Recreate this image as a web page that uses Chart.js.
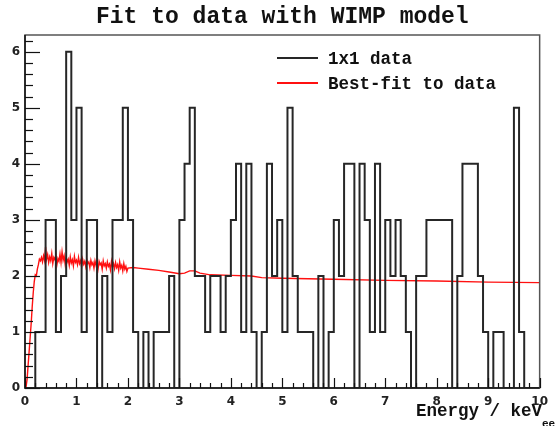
<!DOCTYPE html>
<html>
<head>
<meta charset="utf-8">
<script src="https://cdn.jsdelivr.net/npm/chart.js@4.4.1/dist/chart.umd.min.js"></script>
<style>
  html, body { margin: 0; padding: 0; background: #fff; }
  canvas { display: block; }
</style>
</head>
<body>
<canvas id="chart" width="555" height="426"></canvas>
<script>
// histogram: 100 bins of 0.1 keV from 0 to 10
const titleText = 'Fit to data with WIMP model';
const xTitle = 'Energy / keV';
const xTitleSub = 'ee';
const binStart = 0;
const binWidth = 0.1;
const counts = [
    0, 0, 1, 1, 3, 3, 1, 2, 6, 3,
    5, 1, 3, 3, 0, 2, 1, 3, 3, 5,
    3, 1, 0, 1, 0, 1, 1, 1, 2, 0,
    3, 4, 5, 2, 2, 1, 2, 2, 1, 2,
    3, 4, 1, 4, 1, 0, 1, 4, 2, 3,
    1, 5, 2, 1, 1, 1, 0, 2, 0, 1,
    3, 2, 4, 4, 0, 4, 3, 1, 4, 1,
    3, 2, 3, 2, 1, 0, 2, 2, 3, 3,
    3, 3, 3, 0, 2, 4, 4, 4, 2, 1,
    0, 1, 1, 0, 0, 5, 1, 0, 0, 0
];

// best-fit curve (noisy part below 2 keV)
const fitX = [
    0.00, 0.02, 0.04, 0.06, 0.08, 0.10, 0.12, 0.14, 0.16, 0.18, 0.20, 0.22, 0.24, 0.26, 0.28,
    0.30, 0.32, 0.34, 0.36, 0.38, 0.40, 0.42, 0.44, 0.46, 0.48, 0.50, 0.52, 0.54, 0.56, 0.58,
    0.60, 0.62, 0.64, 0.66, 0.68, 0.70, 0.72, 0.74, 0.76, 0.78, 0.80, 0.82, 0.84, 0.86, 0.88,
    0.90, 0.92, 0.94, 0.96, 0.98, 1.00, 1.02, 1.04, 1.06, 1.08, 1.10, 1.12, 1.14, 1.16, 1.18,
    1.20, 1.22, 1.24, 1.26, 1.28, 1.30, 1.32, 1.34, 1.36, 1.38, 1.40, 1.42, 1.44, 1.46, 1.48,
    1.50, 1.52, 1.54, 1.56, 1.58, 1.60, 1.62, 1.64, 1.66, 1.68, 1.70, 1.72, 1.74, 1.76, 1.78,
    1.80, 1.82, 1.84, 1.86, 1.88, 1.90, 1.92, 1.94, 1.96, 1.98, 2.00,
    2.1, 2.2, 2.4, 2.6, 2.8, 3.0, 3.1, 3.2, 3.3, 3.4, 3.6, 4.0, 4.4, 4.6, 5.0,
    6.0, 7.0, 8.0, 9.0, 10.0
];
const fitY = [
    0.00, 0.02, 0.15, 0.40, 0.65, 0.90, 1.15, 1.45, 1.70, 1.90, 2.02, 2.00, 2.12, 2.20, 2.30,
    2.27, 2.33, 2.25, 2.36, 2.28, 2.52, 2.30, 2.38, 2.24, 2.34, 2.27, 2.40, 2.22, 2.33, 2.29,
    2.37, 2.20, 2.31, 2.26, 2.39, 2.24, 2.43, 2.28, 2.36, 2.21, 2.33, 2.25, 2.30, 2.19, 2.34,
    2.23, 2.29, 2.18, 2.35, 2.24, 2.28, 2.20, 2.33, 2.22, 2.27, 2.16, 2.30, 2.21, 2.26, 2.17,
    2.29, 2.22, 2.25, 2.15, 2.28, 2.20, 2.24, 2.14, 2.27, 2.19, 2.25, 2.13, 2.26, 2.20, 2.23,
    2.12, 2.27, 2.18, 2.22, 2.14, 2.25, 2.17, 2.21, 2.11, 2.26, 2.16, 2.22, 2.13, 2.24, 2.15,
    2.20, 2.10, 2.25, 2.14, 2.19, 2.09, 2.22, 2.12, 2.17, 2.08, 2.14,
    2.15, 2.14, 2.12, 2.10, 2.07, 2.04, 2.05, 2.09, 2.09, 2.05, 2.02, 2.01, 2.00, 1.97, 1.96,
    1.94, 1.92, 1.91, 1.89, 1.88
];

const histPts = counts.map((c, i) => ({ x: binStart + i * binWidth, y: c }));
histPts.push({ x: binStart + counts.length * binWidth, y: counts[counts.length - 1] });
const fitPts = fitX.map((x, i) => ({ x: x, y: fitY[i] }));

// ROOT style frame, inward ticks, title, legend and axis title
const rootStyle = {
    id: 'rootStyle',
    afterDraw(chart) {
        const { ctx, chartArea: a, scales } = chart;
        const xs = scales.x, ys = scales.y;
        ctx.save();

        // frame
        ctx.strokeStyle = '#555';
        ctx.lineWidth = 1.5;
        ctx.strokeRect(a.left, a.top, a.right - a.left, a.bottom - a.top);
        ctx.strokeStyle = '#111';
        ctx.beginPath();
        ctx.moveTo(a.left, a.top);
        ctx.lineTo(a.left, a.bottom);
        ctx.lineTo(a.right, a.bottom);
        ctx.stroke();

        // ticks
        ctx.lineWidth = 1.2;
        for (let v = 0; v <= 10.001; v += 0.2) {
            const px = Math.round(xs.getPixelForValue(v)) + 0.5;
            const major = Math.abs(v - Math.round(v)) < 0.01;
            ctx.beginPath();
            ctx.moveTo(px, a.bottom);
            ctx.lineTo(px, a.bottom - (major ? 10 : 5));
            ctx.stroke();
        }
        for (let v = 0; v <= 6.3; v += 0.2) {
            const py = Math.round(ys.getPixelForValue(v)) + 0.5;
            const major = Math.abs(v - Math.round(v)) < 0.01;
            ctx.beginPath();
            ctx.moveTo(a.left, py);
            ctx.lineTo(a.left + (major ? 15 : 8), py);
            ctx.stroke();
        }

        // title
        ctx.fillStyle = '#111';
        ctx.font = 'bold 23px "Liberation Mono"';
        ctx.textAlign = 'center';
        ctx.textBaseline = 'alphabetic';
        ctx.fillText(titleText, (a.left + a.right) / 2, 23);

        // legend
        ctx.font = 'bold 17.5px "Liberation Mono"';
        ctx.textAlign = 'left';
        ctx.textBaseline = 'middle';
        chart.data.datasets.forEach((ds, i) => {
            const y = 58 + i * 25;
            ctx.strokeStyle = ds.borderColor;
            ctx.lineWidth = 2;
            ctx.beginPath();
            ctx.moveTo(277, y);
            ctx.lineTo(318, y);
            ctx.stroke();
            ctx.fillStyle = '#111';
            ctx.fillText(ds.label, 328, y + 2);
        });

        // x axis title with subscript
        ctx.textAlign = 'right';
        ctx.textBaseline = 'alphabetic';
        ctx.font = 'bold 17.5px "Liberation Mono"';
        ctx.fillText(xTitle, 542, 416);
        ctx.textAlign = 'left';
        ctx.font = 'bold 11px "Liberation Mono"';
        ctx.fillText(xTitleSub, 542, 427);

        ctx.restore();
    }
};

const tickFont = { family: 'DejaVu Sans', weight: 'bold', size: 12 };

new Chart(document.getElementById('chart'), {
    type: 'line',
    data: {
        datasets: [
            {
                label: '1x1 data',
                data: histPts,
                stepped: 'before',
                borderColor: '#262626',
                borderWidth: 2,
                pointRadius: 0,
                fill: false
            },
            {
                label: 'Best-fit to data',
                data: fitPts,
                borderColor: '#ff1010',
                borderWidth: 1.4,
                pointRadius: 0,
                tension: 0,
                fill: false
            }
        ]
    },
    options: {
        responsive: false,
        animation: false,
        devicePixelRatio: 1,
        layout: { padding: { top: 35, right: 10, left: 0, bottom: 0 } },
        scales: {
            x: {
                type: 'linear',
                min: 0,
                max: 10,
                grid: { display: false, drawTicks: false },
                border: { display: false },
                ticks: {
                    stepSize: 1,
                    autoSkip: false,
                    maxRotation: 0,
                    padding: 7,
                    color: '#222',
                    font: tickFont
                },
                afterFit: scale => { scale.height = 38; }
            },
            y: {
                type: 'linear',
                min: 0,
                max: 6.3,
                grid: { display: false, drawTicks: false },
                border: { display: false },
                ticks: {
                    stepSize: 1,
                    includeBounds: false,
                    padding: 5,
                    color: '#222',
                    font: tickFont
                },
                afterFit: scale => { scale.width = 25; }
            }
        },
        plugins: {
            legend: { display: false },
            title: { display: false },
            tooltip: { enabled: false }
        }
    },
    plugins: [rootStyle]
});
</script>
</body>
</html>
